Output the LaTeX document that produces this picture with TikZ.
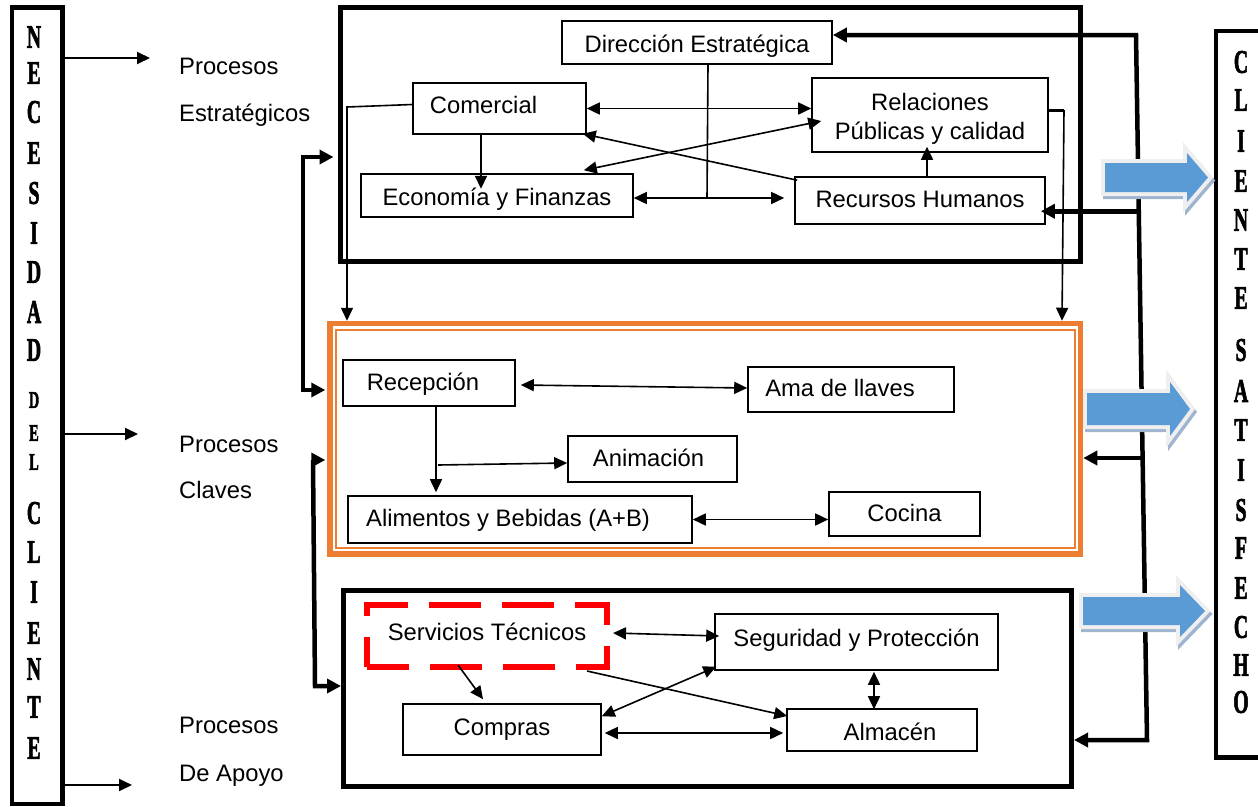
\documentclass[tikz,border=0pt]{standalone}
\usepackage{fontspec}
\usepackage{graphicx}
\setmainfont{Liberation Sans}
\newfontfamily\letfont[BoldFeatures={FakeBold=2.5}]{Liberation Serif}
\usetikzlibrary{arrows.meta,calc}
\definecolor{orng}{HTML}{ED7D31}
\definecolor{blu}{HTML}{5B9BD5}
\definecolor{glowc}{HTML}{EFEFEF}
\definecolor{shad}{HTML}{9FB4CF}
\definecolor{redd}{HTML}{FF0000}
\newcommand{\bigLet}[1]{\scalebox{0.6}[1]{\fontsize{33pt}{33pt}\letfont\bfseries #1}}
\newcommand{\smLet}[1]{\scalebox{0.6}[1]{\fontsize{24pt}{24pt}\letfont\bfseries #1}}
\newcommand{\bluearrow}[8]{%
  \begin{scope}[shift={(2,3)}]
    \filldraw[shad, line width=8pt, line join=miter] (#1,#2) -- (#4,#2) -- (#4,#5) -- (#7,#8) -- (#4,#6) -- (#4,#3) -- (#1,#3) -- cycle;
  \end{scope}
  \filldraw[glowc, line width=8pt, line join=miter] (#1,#2) -- (#4,#2) -- (#4,#5) -- (#7,#8) -- (#4,#6) -- (#4,#3) -- (#1,#3) -- cycle;
  \fill[blu] (#1,#2) -- (#4,#2) -- (#4,#5) -- (#7,#8) -- (#4,#6) -- (#4,#3) -- (#1,#3) -- cycle;
}
\begin{document}
\begin{tikzpicture}[x=1pt,y=-1pt,
  every node/.style={font=\fontsize{23.8pt}{29pt}\selectfont},
  box/.style={draw, line width=1.6pt, inner sep=0pt},
  bt/.style={box, text height=20pt, text depth=5pt},
  frame/.style={draw, line width=5pt, inner sep=0pt},
  arr/.style={line width=1.6pt, -{Triangle[length=13pt,width=12pt]}},
  darr/.style={line width=1.6pt, {Triangle[length=13pt,width=12pt]}-{Triangle[length=13pt,width=12pt]}},
  tarr/.style={line width=4.5pt, -{Triangle[length=14pt,width=14pt]}},
  dtarr/.style={line width=4.5pt, line join=miter, {Triangle[length=14pt,width=14pt]}-{Triangle[length=14pt,width=14pt]}},
  lab/.style={anchor=base west, inner sep=0pt}]
\useasboundingbox (0,0) rectangle (1258,806);
\clip (0,0) rectangle (1258,806);

% frames
\node[frame, minimum width=740.5pt, minimum height=254pt] (strat) at (710.25,134) {};
\node[frame, draw=orng, line width=5.5pt, minimum width=750.5pt, minimum height=230.5pt] (key) at (705.25,438.75) {};
\draw[orng, line width=1.5pt] (336,330) rectangle (1075,548);
\node[frame, minimum width=728pt, minimum height=196pt] (sup) at (707.5,688.5) {};
\node[frame, line width=4.5pt, minimum width=50.5pt, minimum height=796.5pt] (nec) at (37.25,405.75) {};
% right box (its right side lies beyond the page)
\draw[line width=4.5pt, line join=miter] (1290,31) -- (1216,31) -- (1216,757.5) -- (1290,757.5);

% side letters
\foreach \l/\y in {N/37,E/73,C/112,E/153,S/193,I/233,D/272,A/312,D/350,C/513,L/552,I/592,E/633,N/669,T/707,E/748}
  \node[inner sep=0pt] (nl-\y) at (34,\y) {\bigLet{\l}};
\foreach \l/\y in {D/400,E/433,L/462}
  \node[inner sep=0pt] (nl-\y) at (34,\y) {\smLet{\l}};
\foreach \l/\y in {C/62,L/100,I/141,E/181,N/220,T/259,E/298,S/350,A/391,T/430,I/470,S/510,F/548,E/588,C/627,H/665,O/702}
  \node[inner sep=0pt] (nr-\y) at (1241,\y) {\bigLet{\l}};

% labels
\node[lab] (pe1) at (179,74) {Procesos};
\node[lab] (pe2) at (179,121) {Estratégicos};
\node[lab] (pc1) at (179,452) {Procesos};
\node[lab] (pc2) at (179,498) {Claves};
\node[lab] (pa1) at (179,733) {Procesos};
\node[lab] (pa2) at (179,781) {De Apoyo};

% strategic boxes
\node[bt, text height=24pt, minimum width=270pt, minimum height=43pt] (dir) at (697,42.5) {Dirección Estratégica};
\node[bt, text height=15pt, minimum width=173pt, minimum height=51pt] (com) at (499.5,108.5) {Comercial\hspace*{32pt}};
\node[bt, text height=24pt, minimum width=272pt, minimum height=43pt] (eco) at (497,195.5) {Economía y Finanzas};
\node[box, align=center, minimum width=236pt, minimum height=74pt] (rel) at (930,115) {\rule{0pt}{25pt}Relaciones\\Públicas y calidad};
\node[bt, text height=18pt, minimum width=250pt, minimum height=47pt] (rh) at (920,200.5) {Recursos Humanos};

% key boxes
\node[bt, text height=20.4pt, minimum width=172pt, minimum height=46pt] (rec) at (429,383) {Recepción\hspace*{12pt}};
\node[bt, text height=19pt, minimum width=206pt, minimum height=45pt] (ama) at (851,389.5) {Ama de llaves\hspace*{22pt}};
\node[bt, text height=19pt, minimum width=169pt, minimum height=46pt] (ani) at (652.5,459) {Animación\hspace*{8pt}};
\node[bt, text height=19pt, minimum width=344pt, minimum height=47pt] (ali) at (520,519.5) {Alimentos y Bebidas (A+B)\hspace*{24pt}};
\node[bt, text height=20.4pt, minimum width=151pt, minimum height=44pt] (coc) at (904.5,514) {Cocina};

% support boxes
\node[draw=redd, line width=6pt, dash pattern=on 52pt off 21pt, dash phase=10pt, inner sep=0pt, text height=13pt, text depth=5pt, minimum width=240pt, minimum height=62pt] (ser) at (487,636) {Servicios Técnicos};
\node[bt, text height=13pt, minimum width=283pt, minimum height=56pt] (seg) at (856.5,642) {Seguridad y Protección};
\node[bt, text height=16pt, minimum width=198pt, minimum height=51pt] (cmp) at (502,729.5) {Compras};
\node[bt, text height=25pt, minimum width=190pt, minimum height=42pt] (alm) at (882,730) {\hspace*{16pt}Almacén};

% left thin arrows
\coordinate (a1) at (150,58);
\coordinate (a2) at (138,434);
\coordinate (a3) at (132,785);
\draw[arr, line width=2pt] (a1 -| nec.east) -- (a1);
\draw[arr, line width=2pt] (a2 -| nec.east) -- (a2);
\draw[arr, line width=2pt] (a3 -| nec.east) -- (a3);

% strategic connectors
\draw[darr] (com.east) -- (com.east -| rel.west);
\draw[darr] ($(eco.east)+(0,2.5)$) -- ($(eco.east -| rh.west)+(-10,2.5)$);
\draw[line width=1.6pt] ($(dir.south)+(11,0)$) -- ($(dir.south |- eco.east)+(10,2.5)$);
\draw[arr] ($(com.south)+(-18.5,0)$) -- ($(com.south)+(-18.5,54)$);
\draw[darr] ($(eco.north east)+(-50,-3)$) -- ($(rel.west)+(10,6)$);
\draw[arr] ($(rh.north west)+(3,4)$) -- ($(com.south east)+(-4,-1)$);
\draw[arr] ($(rh.north)+(7,0)$) -- ($(rel.south)+(-3,-6)$);
\coordinate (cl) at (347,107);
\draw[arr] ($(com.west)+(0,-4)$) -- (cl) -- (cl |- key.north);
\coordinate (rr) at (1064,110);
\draw[line width=3pt] ($(rel.east)+(0,-5)$) -- (rr);
\draw[arr] (rr) -- ($(rr |- key.north)+(-2,0)$);

% key connectors
\draw[darr] ($(rec.east)+(5,2)$) -- ($(ama.west)+(0,-1.5)$);
\draw[arr] ($(rec.south)+(7,0)$) -- ($(rec.south |- ali.north)+(7,-3)$);
\draw[arr] ($(rec.south |- ani.west)+(9,6)$) -- ($(ani.west)+(0,4)$);
\draw[darr] (ali.east) -- (ali.east -| coc.west);

% support connectors
\draw[darr] ($(ser.east)+(3,-3)$) -- ($(seg.west)+(5,-6)$);
\draw[arr] ($(ser.south)+(-29,-5)$) -- ($(cmp.north)+(-19,-4)$);
\draw[arr] ($(ser.south east)+(-23,1)$) -- ($(alm.west)+(1,-14)$);
\draw[darr] ($(cmp.north east)+(0,13)$) -- ($(seg.south west)+(2,-4)$);
\draw[darr] ($(cmp.east)+(3,3.5)$) -- ($(alm.west)+(-3,3)$);
\draw[darr] ($(seg.south)+(17.5,1)$) -- ($(alm.north)+(-8,1)$);

% thick left loops
\coordinate (lt) at (303,157);
\coordinate (lb) at (303,390);
\draw[dtarr] ($(lt -| strat.west)+(-4,0)$) -- (lt) -- (lb) -- ($(lb -| key.west)+(-2,0)$);
\coordinate (l2t) at (313,460);
\coordinate (l2b) at (315,686);
\draw[dtarr] ($(l2t -| key.west)+(-2,0)$) -- (l2t) -- (l2b) -- (l2b -| sup.west);

% thick right loop
\coordinate (tr) at (1136,35);
\coordinate (br) at (1147,740);
\draw[dtarr] (tr -| dir.east) -- (tr) -- (br) -- (br -| sup.east);
\coordinate (b1) at ($(tr)!0.25!(br)$);
\coordinate (b2) at ($(tr)!0.6!(br)$);
\draw[tarr] (b1) -- ($(b1 -| rh.east)+(-5,0)$);
\draw[tarr] (b2) -- (b2 -| key.east);

% blue block arrows
\bluearrow{1105}{163}{192}{1187}{153}{202}{1208}{177.5}
\bluearrow{1087}{393}{425}{1170}{382}{436}{1190}{409}
\bluearrow{1083}{597}{625}{1180}{585}{637}{1205}{611}
\end{tikzpicture}
\end{document}
